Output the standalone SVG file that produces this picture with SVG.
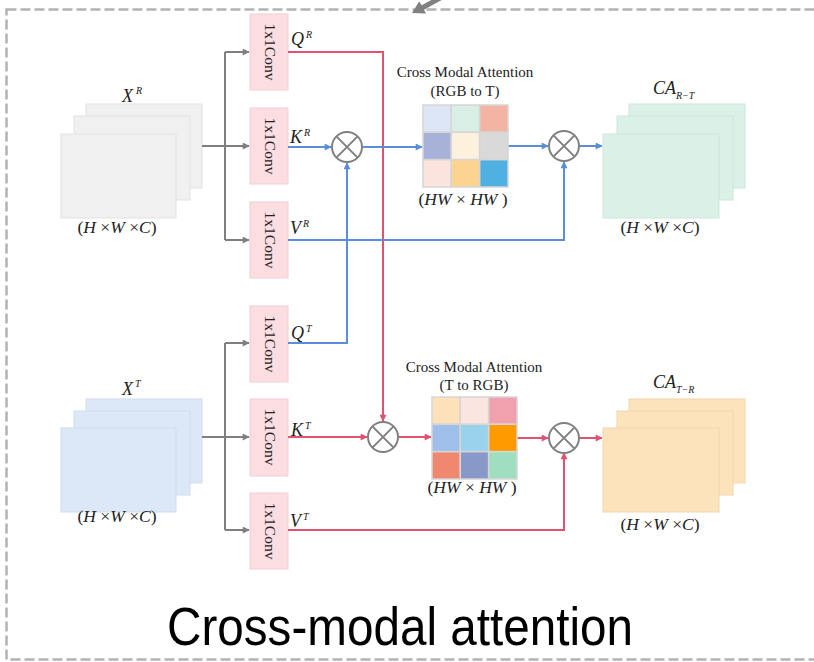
<svg xmlns="http://www.w3.org/2000/svg" width="814" height="662" viewBox="0 0 814 662">
<defs>
<marker id="ag" viewBox="0 0 10 10" refX="9" refY="5" markerUnits="userSpaceOnUse" markerWidth="9" markerHeight="7" orient="auto"><path d="M0,0L10,5L0,10z" fill="#7f7f7f"/></marker>
<marker id="ab" viewBox="0 0 10 10" refX="9" refY="5" markerUnits="userSpaceOnUse" markerWidth="9" markerHeight="7" orient="auto"><path d="M0,0L10,5L0,10z" fill="#5b8ed8"/></marker>
<marker id="ar" viewBox="0 0 10 10" refX="9" refY="5" markerUnits="userSpaceOnUse" markerWidth="9" markerHeight="7" orient="auto"><path d="M0,0L10,5L0,10z" fill="#e0526f"/></marker>
</defs>
<style>
.conv{fill:#fbdde2;stroke:#f2d0d6;stroke-width:1}
.ct{font-family:"Liberation Serif",serif;font-size:15.5px;fill:#222}
.t{font-family:"Liberation Serif",serif;font-size:15px;fill:#222;text-anchor:middle}
.m{font-family:"Liberation Serif",serif;font-style:italic;font-size:18px;fill:#222}
.mm{font-family:"Liberation Serif",serif;font-style:italic;font-size:17.5px;fill:#222;text-anchor:middle}
.r{font-style:normal}
.s{font-size:10px}
.g{fill:none;stroke:#7f7f7f;stroke-width:2}
.b{fill:none;stroke:#5b8ed8;stroke-width:2}
.rd{fill:none;stroke:#e0526f;stroke-width:2}
.mul{fill:#fff;stroke:#808080;stroke-width:2}
.x{stroke:#808080;stroke-width:2}
.cell{stroke:#d6d6d6;stroke-width:1.5}
.fr{stroke-width:1}
</style>

<rect x="6.5" y="9.5" width="830" height="650" fill="none" stroke="#b3b3b3" stroke-width="2.5" stroke-dasharray="10,4"/>
<g id="topArrow">
<line x1="442" y1="-3" x2="421" y2="8.5" stroke="#808080" stroke-width="5"/>
<polygon points="412,13 426,13.6 419.3,1.2" fill="#808080"/>
</g>

<g id="XR">
<rect x="86" y="104" width="116" height="84" fill="#f0f0f0" stroke="#e2e2e2" class="fr"/>
<rect x="74" y="116" width="116" height="84" fill="#f0f0f0" stroke="#e2e2e2" class="fr"/>
<rect x="61" y="134" width="115" height="84" fill="#f0f0f0" stroke="#e2e2e2" class="fr"/>
<text x="122" y="102" class="m">X<tspan class="s" dx="3" dy="-8">R</tspan></text>
<text x="117" y="233" class="mm"><tspan class="r">(</tspan>H<tspan class="r"> ×</tspan>W<tspan class="r"> ×</tspan>C<tspan class="r">)</tspan></text>
</g>

<g id="XT">
<rect x="86" y="399" width="116" height="84" fill="#dce8f7" stroke="#cfdcee" class="fr"/>
<rect x="74" y="411" width="116" height="84" fill="#dce8f7" stroke="#cfdcee" class="fr"/>
<rect x="61" y="428" width="115" height="84" fill="#dce8f7" stroke="#cfdcee" class="fr"/>
<text x="122" y="395" class="m">X<tspan class="s" dx="2" dy="-8">T</tspan></text>
<text x="117" y="522" class="mm"><tspan class="r">(</tspan>H<tspan class="r"> ×</tspan>W<tspan class="r"> ×</tspan>C<tspan class="r">)</tspan></text>
</g>

<g id="convQR"><rect x="250" y="14" width="38" height="76" class="conv"/><text transform="translate(264.5,52) rotate(90)" text-anchor="middle" class="ct">1x1Conv</text></g>
<g id="convKR"><rect x="250" y="108" width="38" height="76" class="conv"/><text transform="translate(264.5,146) rotate(90)" text-anchor="middle" class="ct">1x1Conv</text></g>
<g id="convVR"><rect x="250" y="202" width="38" height="76" class="conv"/><text transform="translate(264.5,240) rotate(90)" text-anchor="middle" class="ct">1x1Conv</text></g>
<g id="convQT"><rect x="250" y="306" width="38" height="76" class="conv"/><text transform="translate(264.5,344) rotate(90)" text-anchor="middle" class="ct">1x1Conv</text></g>
<g id="convKT"><rect x="250" y="399" width="38" height="77" class="conv"/><text transform="translate(264.5,437) rotate(90)" text-anchor="middle" class="ct">1x1Conv</text></g>
<g id="convVT"><rect x="250" y="493" width="38" height="76" class="conv"/><text transform="translate(264.5,531) rotate(90)" text-anchor="middle" class="ct">1x1Conv</text></g>

<g id="connectors">
<path class="g" d="M202,146H225M225,52V240"/>
<path class="g" d="M225,52H249" marker-end="url(#ag)"/>
<path class="g" d="M225,146H249" marker-end="url(#ag)"/>
<path class="g" d="M225,240H249" marker-end="url(#ag)"/>
<path class="g" d="M202,437H225M225,343V530"/>
<path class="g" d="M225,343H249" marker-end="url(#ag)"/>
<path class="g" d="M225,437H249" marker-end="url(#ag)"/>
<path class="g" d="M225,530H249" marker-end="url(#ag)"/>

<path class="rd" d="M288,52H383V421" marker-end="url(#ar)"/>
<path class="rd" d="M288,437H367" marker-end="url(#ar)"/>
<path class="rd" d="M398,437H431" marker-end="url(#ar)"/>
<path class="rd" d="M517,438H548" marker-end="url(#ar)"/>
<path class="rd" d="M579,438H602" marker-end="url(#ar)"/>
<path class="rd" d="M288,530H564V453" marker-end="url(#ar)"/>

<path class="b" d="M288,147H331" marker-end="url(#ab)"/>
<path class="b" d="M362,147H422" marker-end="url(#ab)"/>
<path class="b" d="M508,146H548" marker-end="url(#ab)"/>
<path class="b" d="M579,146H602" marker-end="url(#ab)"/>
<path class="b" d="M288,240H564V162" marker-end="url(#ab)"/>
<path class="b" d="M288,343H347V163" marker-end="url(#ab)"/>
</g>

<g id="labels">
<text x="291" y="45" class="m">Q<tspan class="s" dx="2" dy="-7">R</tspan></text>
<text x="290" y="143" class="m">K<tspan class="s" dx="2" dy="-7">R</tspan></text>
<text x="290" y="234" class="m">V<tspan class="s" dx="2" dy="-7">R</tspan></text>
<text x="291" y="339" class="m">Q<tspan class="s" dx="2" dy="-7">T</tspan></text>
<text x="291" y="436" class="m">K<tspan class="s" dx="2" dy="-7">T</tspan></text>
<text x="290" y="527" class="m">V<tspan class="s" dx="2" dy="-7">T</tspan></text>
</g>

<g id="mul1"><circle cx="347" cy="147" r="15" class="mul"/><path class="x" d="M336.4,136.4L357.6,157.6M357.6,136.4L336.4,157.6"/></g>
<g id="mul2"><circle cx="564" cy="146" r="15" class="mul"/><path class="x" d="M553.4,135.4L574.6,156.6M574.6,135.4L553.4,156.6"/></g>
<g id="mul3"><circle cx="383" cy="437" r="15" class="mul"/><path class="x" d="M372.4,426.4L393.6,447.6M393.6,426.4L372.4,447.6"/></g>
<g id="mul4"><circle cx="564" cy="438" r="15" class="mul"/><path class="x" d="M553.4,427.4L574.6,448.6M574.6,427.4L553.4,448.6"/></g>

<g id="att1">
<text x="465" y="77" class="t">Cross Modal Attention</text>
<text x="465" y="96" class="t">(RGB to T)</text>
<rect x="423" y="105" width="28.3" height="27.3" fill="#dde6f6" class="cell"/>
<rect x="451.3" y="105" width="28.3" height="27.3" fill="#d9efe5" class="cell"/>
<rect x="479.7" y="105" width="28.3" height="27.3" fill="#f4b4a4" class="cell"/>
<rect x="423" y="132.3" width="28.3" height="27.3" fill="#a8b1d7" class="cell"/>
<rect x="451.3" y="132.3" width="28.3" height="27.3" fill="#fdf0dd" class="cell"/>
<rect x="479.7" y="132.3" width="28.3" height="27.3" fill="#d9d9d9" class="cell"/>
<rect x="423" y="159.7" width="28.3" height="27.3" fill="#fbe4dd" class="cell"/>
<rect x="451.3" y="159.7" width="28.3" height="27.3" fill="#fcd48f" class="cell"/>
<rect x="479.7" y="159.7" width="28.3" height="27.3" fill="#4fb1e1" class="cell"/>
<text x="463" y="205" class="mm"><tspan class="r">(</tspan>HW<tspan class="r"> × </tspan>HW<tspan class="r"> )</tspan></text>
</g>

<g id="att2">
<text x="474" y="372" class="t">Cross Modal Attention</text>
<text x="474" y="390" class="t">(T to RGB)</text>
<rect x="432" y="397" width="28.3" height="27.3" fill="#fde1b9" class="cell"/>
<rect x="460.3" y="397" width="28.3" height="27.3" fill="#fbe5e0" class="cell"/>
<rect x="488.7" y="397" width="28.3" height="27.3" fill="#f0a1ad" class="cell"/>
<rect x="432" y="424.3" width="28.3" height="27.3" fill="#9fbeea" class="cell"/>
<rect x="460.3" y="424.3" width="28.3" height="27.3" fill="#9ad2eb" class="cell"/>
<rect x="488.7" y="424.3" width="28.3" height="27.3" fill="#ff9a00" class="cell"/>
<rect x="432" y="451.7" width="28.3" height="27.3" fill="#f08870" class="cell"/>
<rect x="460.3" y="451.7" width="28.3" height="27.3" fill="#8898c8" class="cell"/>
<rect x="488.7" y="451.7" width="28.3" height="27.3" fill="#9fdfc0" class="cell"/>
<text x="472" y="493" class="mm"><tspan class="r">(</tspan>HW<tspan class="r"> × </tspan>HW<tspan class="r"> )</tspan></text>
</g>

<g id="CART">
<rect x="629" y="104" width="116" height="84" fill="#dbf1e8" stroke="#cde5db" class="fr"/>
<rect x="617" y="116" width="116" height="84" fill="#dbf1e8" stroke="#cde5db" class="fr"/>
<rect x="603" y="134" width="116" height="84" fill="#dbf1e8" stroke="#cde5db" class="fr"/>
<text x="653" y="94" class="m">CA<tspan class="s" dy="5">R−T</tspan></text>
<text x="660" y="233" class="mm"><tspan class="r">(</tspan>H<tspan class="r"> ×</tspan>W<tspan class="r"> ×</tspan>C<tspan class="r">)</tspan></text>
</g>

<g id="CATR">
<rect x="629" y="399" width="116" height="84" fill="#fde3bc" stroke="#f0d6ae" class="fr"/>
<rect x="617" y="411" width="116" height="84" fill="#fde3bc" stroke="#f0d6ae" class="fr"/>
<rect x="603" y="428" width="116" height="84" fill="#fde3bc" stroke="#f0d6ae" class="fr"/>
<text x="653" y="388" class="m">CA<tspan class="s" dy="5">T−R</tspan></text>
<text x="660" y="530" class="mm"><tspan class="r">(</tspan>H<tspan class="r"> ×</tspan>W<tspan class="r"> ×</tspan>C<tspan class="r">)</tspan></text>
</g>

<text x="167" y="645" font-family="Liberation Sans, Arial, sans-serif" font-size="54" textLength="466" lengthAdjust="spacingAndGlyphs" fill="#000">Cross-modal attention</text>
</svg>
